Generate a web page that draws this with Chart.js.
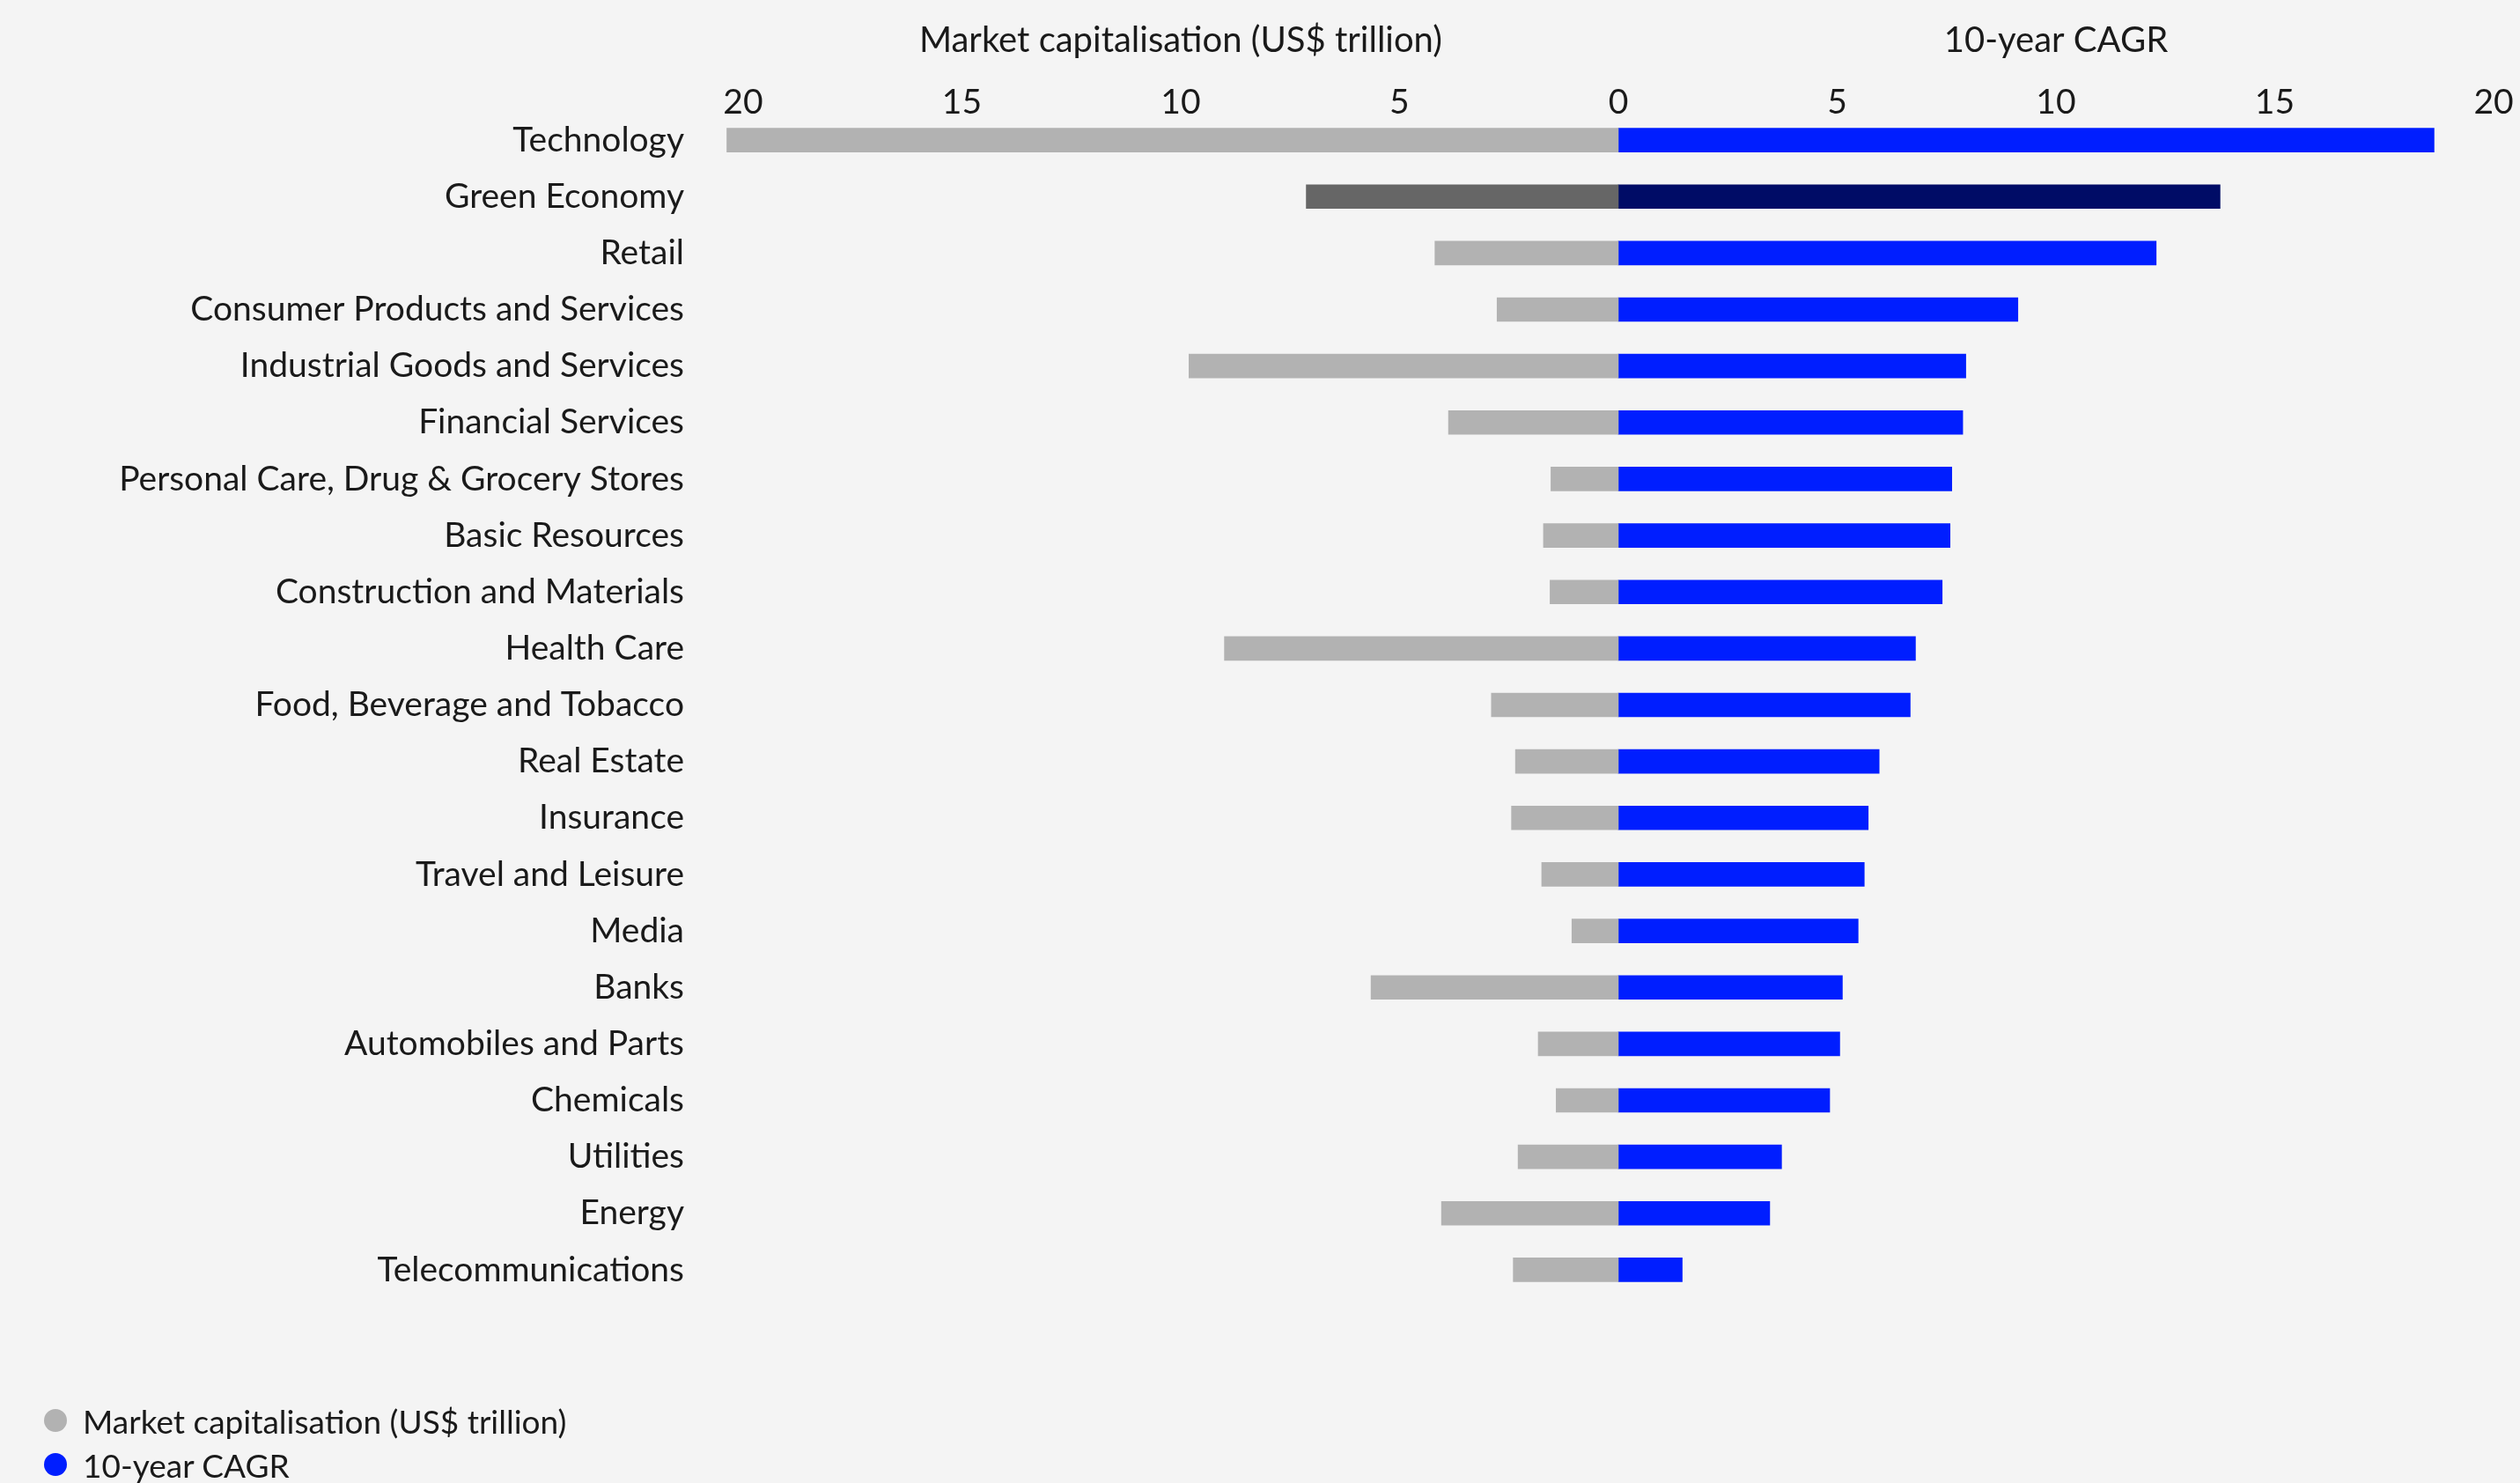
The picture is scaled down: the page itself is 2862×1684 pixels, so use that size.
<!DOCTYPE html>
<html>
<head>
<meta charset="utf-8">
<script src="https://cdn.jsdelivr.net/npm/chart.js@4.4.0/dist/chart.umd.min.js"></script>
<style>
    html, body { margin: 0; padding: 0; background: #f4f4f4; }
    #wrap { position: relative; width: 2862px; height: 1684px; }
    #legend { position: absolute; left: 50px; top: 1588px; font-family: Lato, sans-serif; font-size: 37px; color: #1a1a1a; }
    .item { display: flex; align-items: center; height: 50px; }
    .dot { width: 26px; height: 26px; border-radius: 50%; margin-right: 18px; }
</style>
</head>
<body>
<div id="wrap">
    <canvas id="myChart" width="2862" height="1684"></canvas>
    <div id="legend"></div>
</div>
<script>
const sectors = [
    'Technology', 'Green Economy', 'Retail', 'Consumer Products and Services',
    'Industrial Goods and Services', 'Financial Services', 'Personal Care, Drug & Grocery Stores',
    'Basic Resources', 'Construction and Materials', 'Health Care', 'Food, Beverage and Tobacco',
    'Real Estate', 'Insurance', 'Travel and Leisure', 'Media', 'Banks',
    'Automobiles and Parts', 'Chemicals', 'Utilities', 'Energy', 'Telecommunications'
];
const marketCap = [20.37, 7.13, 4.19, 2.77, 9.81, 3.88, 1.54, 1.71, 1.56, 9.0, 2.9,
    2.35, 2.44, 1.75, 1.06, 5.65, 1.83, 1.42, 2.29, 4.04, 2.40];
const cagr = [18.64, 13.75, 12.29, 9.13, 7.94, 7.87, 7.62, 7.58, 7.40, 6.79, 6.67,
    5.96, 5.71, 5.62, 5.48, 5.12, 5.06, 4.83, 3.73, 3.46, 1.46];
const tickValues = [-20, -15, -10, -5, 0, 5, 10, 15, 20];
const seriesNames = ['Market capitalisation (US$ trillion)', '10-year CAGR'];
const highlight = 'Green Economy';

const greyCol = '#b2b2b2', greyDark = '#666666';
const blueCol = '#001eff', blueDark = '#000c66';
const textCol = '#1a1a1a';
const fontFamily = 'Lato, sans-serif';

// panel headings, centred over the 20..0 and 0..20 tick spans
const headings = {
    id: 'headings',
    afterDraw(chart) {
        const ctx = chart.ctx;
        const x = chart.scales.x;
        const zero = x.getPixelForValue(0);
        const lo = x.getPixelForValue(tickValues[0]);
        const hi = x.getPixelForValue(tickValues[tickValues.length - 1]);
        ctx.save();
        ctx.fillStyle = textCol;
        ctx.font = '40px ' + fontFamily;
        ctx.textAlign = 'center';
        ctx.textBaseline = 'middle';
        ctx.fillText(seriesNames[0], (lo + zero) / 2, 46);
        ctx.fillText(seriesNames[1], (zero + hi) / 2, 46);
        ctx.restore();
    }
};

let ctx = document.getElementById('myChart').getContext('2d');

let chart = new Chart(ctx, {
    type: 'bar',
    data: {
        labels: sectors,
        datasets: [{
            label: seriesNames[0],
            data: marketCap.map(v => -v),
            backgroundColor: sectors.map(s => s === highlight ? greyDark : greyCol),
            barThickness: 27,
            borderWidth: 0
        }, {
            label: seriesNames[1],
            data: cagr,
            backgroundColor: sectors.map(s => s === highlight ? blueDark : blueCol),
            barThickness: 27,
            borderWidth: 0
        }]
    },
    options: {
        indexAxis: 'y',
        responsive: false,
        animation: false,
        layout: {
            padding: { top: 127, left: 0, right: 30, bottom: 210 }
        },
        plugins: {
            legend: { display: false },
            tooltip: { enabled: false }
        },
        scales: {
            x: {
                position: 'top',
                stacked: true,
                min: -20.4,
                max: 20,
                afterBuildTicks: scale => {
                    scale.ticks = tickValues.map(v => ({ value: v }));
                },
                grid: { display: false },
                border: { display: false },
                ticks: {
                    color: textCol,
                    mirror: true, // no clipping to the axis box, labels may sit close to the bars
                    padding: -14,
                    font: { family: fontFamily, size: 39 },
                    callback: v => Math.abs(v)
                }
            },
            y: {
                stacked: true,
                afterFit: scale => { scale.width = 824; },
                grid: { display: false },
                border: { display: false },
                ticks: {
                    color: textCol,
                    padding: 39,
                    font: { family: fontFamily, size: 39 }
                }
            }
        }
    },
    plugins: [headings]
});

// legend, one item per line
let legendBox = document.getElementById('legend');
[greyCol, blueCol].forEach((col, i) => {
    legendBox.innerHTML += '<div class="item"><span class="dot" style="background:' + col +
        '"></span>' + seriesNames[i] + '</div>';
});
</script>
</body>
</html>
